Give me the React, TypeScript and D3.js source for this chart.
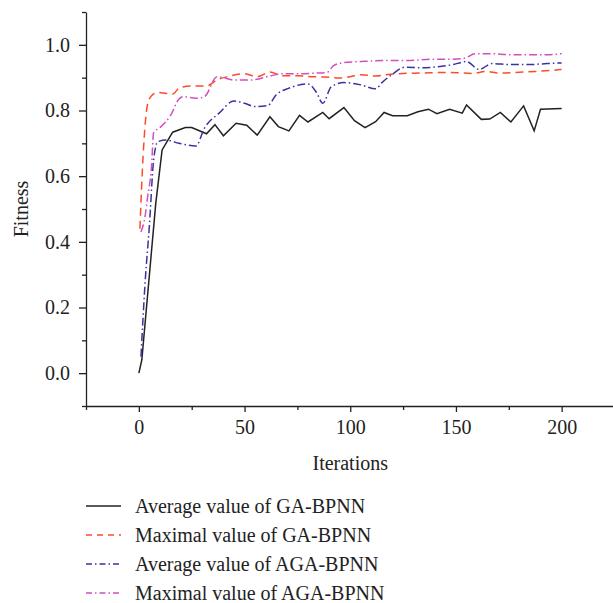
import React, { useEffect, useRef } from 'react';
import * as d3 from 'd3';

const width = 613;
const height = 603;
const margin = { top: 12, right: 0, bottom: 197, left: 86 };

// GA-BPNN average (solid black)
const gaAvgIter = [0, 1.4, 8, 11, 16, 22, 25, 32, 36, 40, 46, 51, 56, 62, 66, 71, 76, 80, 87, 90, 97, 102, 107, 112, 116, 120, 127, 132, 137, 141, 147, 153, 155, 162, 166, 171, 176, 182, 187, 190, 200];
const gaAvgFit = [0, 0.04, 0.517, 0.68, 0.734, 0.748, 0.748, 0.729, 0.757, 0.723, 0.761, 0.755, 0.725, 0.781, 0.751, 0.738, 0.785, 0.765, 0.794, 0.775, 0.809, 0.769, 0.748, 0.766, 0.794, 0.784, 0.784, 0.796, 0.804, 0.79, 0.804, 0.792, 0.817, 0.773, 0.774, 0.794, 0.765, 0.814, 0.738, 0.804, 0.806];

// GA-BPNN maximal (red dashed)
const gaMaxIter = [0.5, 2, 4, 6, 9, 13, 16, 19, 25, 32, 37, 43, 50, 56, 62, 68, 75, 81, 88, 95, 100, 105, 112, 117, 122, 134, 147, 158, 164, 171, 178, 188, 195, 200];
const gaMaxFit = [0.44, 0.66, 0.815, 0.845, 0.855, 0.852, 0.85, 0.868, 0.875, 0.875, 0.893, 0.905, 0.912, 0.903, 0.917, 0.906, 0.906, 0.903, 0.902, 0.899, 0.903, 0.909, 0.905, 0.909, 0.912, 0.914, 0.916, 0.913, 0.919, 0.914, 0.916, 0.919, 0.922, 0.925];

// AGA-BPNN average (blue dash-dot)
const agaAvgIter = [1, 3, 5, 7, 9, 13, 19, 27, 31, 38, 45, 50, 55, 61, 65, 71, 80, 84, 87, 91, 97, 105, 112, 115, 120, 126, 134, 141, 148, 155, 161, 167, 176, 185, 193, 200];
const agaAvgFit = [0.05, 0.28, 0.45, 0.65, 0.705, 0.71, 0.7, 0.692, 0.746, 0.792, 0.829, 0.822, 0.812, 0.815, 0.848, 0.868, 0.881, 0.855, 0.822, 0.872, 0.885, 0.878, 0.866, 0.885, 0.911, 0.932, 0.93, 0.933, 0.939, 0.949, 0.925, 0.943, 0.94, 0.94, 0.943, 0.945];

// AGA-BPNN maximal (magenta dash-dot)
const agaMaxIter = [1, 3, 4, 6, 7, 10, 15, 19, 21, 27, 31, 37, 45, 53, 62, 68, 76, 84, 89, 92, 97, 105, 117, 127, 138, 147, 154, 159, 167, 175, 184, 193, 200];
const agaMaxFit = [0.43, 0.48, 0.53, 0.63, 0.733, 0.748, 0.785, 0.835, 0.842, 0.837, 0.842, 0.903, 0.893, 0.893, 0.905, 0.912, 0.912, 0.914, 0.916, 0.936, 0.946, 0.949, 0.952, 0.952, 0.956, 0.956, 0.959, 0.973, 0.973, 0.97, 0.97, 0.97, 0.973];

const legendLabels = [
  'Average value of GA-BPNN',
  'Maximal value of GA-BPNN',
  'Average value of AGA-BPNN',
  'Maximal value of AGA-BPNN',
];

const xTicks = [0, 50, 100, 150, 200];
const xMinorTicks = [-25, 25, 75, 125, 175];
const yTicks = [0, 0.2, 0.4, 0.6, 0.8, 1.0];
const yMinorTicks = [-0.1, 0.1, 0.3, 0.5, 0.7, 0.9, 1.1];

const font = '"Liberation Serif", "DejaVu Serif", serif';

const series = [
  { iter: gaAvgIter, fit: gaAvgFit, color: '#222222', dash: null, smooth: false },
  { iter: gaMaxIter, fit: gaMaxFit, color: '#ff4a2a', dash: '8,5', smooth: true },
  { iter: agaAvgIter, fit: agaAvgFit, color: '#3a32a0', dash: '8,3,1.5,3', smooth: true },
  { iter: agaMaxIter, fit: agaMaxFit, color: '#d050c0', dash: '8,3,1.5,3', smooth: true },
];

function App() {
  const ref = useRef<SVGSVGElement>(null);

  useEffect(() => {
    const svg = d3.select(ref.current);
    svg.selectAll('*').remove();

    const x = d3.scaleLinear().domain([-25, 225]).range([margin.left, 614.5]);
    const y = d3.scaleLinear().domain([-0.1, 1.1]).range([height - margin.bottom, margin.top]);

    // lines
    series.forEach((s) => {
      const pts = s.iter.map((d, i) => [d, s.fit[i]] as [number, number]);
      const line = d3
        .line<[number, number]>()
        .x((d) => x(d[0]))
        .y((d) => y(d[1]))
        .curve(s.smooth ? d3.curveMonotoneX : d3.curveLinear);
      svg
        .append('path')
        .attr('d', line(pts))
        .attr('fill', 'none')
        .attr('stroke', s.color)
        .attr('stroke-width', 1.5)
        .attr('stroke-dasharray', s.dash);
    });

    // x axis
    const xAxis = svg.append('g').attr('transform', `translate(0, ${y(-0.1)})`);
    xAxis.call(d3.axisBottom(x).tickValues(xTicks).tickSizeInner(6).tickSizeOuter(0).tickPadding(8).tickFormat(d3.format('d')));
    xAxis
      .append('g')
      .call(d3.axisBottom(x).tickValues(xMinorTicks).tickSizeInner(4).tickSizeOuter(0).tickFormat(() => ''))
      .select('.domain')
      .remove();

    // y axis
    const yAxis = svg.append('g').attr('transform', `translate(${margin.left}, 0)`);
    yAxis.call(d3.axisLeft(y).tickValues(yTicks).tickSizeInner(7).tickSizeOuter(0).tickPadding(9).tickFormat(d3.format('.1f')));
    yAxis
      .append('g')
      .call(d3.axisLeft(y).tickValues(yMinorTicks).tickSizeInner(4).tickSizeOuter(0).tickFormat(() => ''))
      .select('.domain')
      .remove();

    svg.selectAll('.domain').attr('stroke', '#222').attr('stroke-width', 1.3);
    svg.selectAll('.tick line').attr('stroke', '#222').attr('stroke-width', 1.3);
    svg
      .selectAll('.tick text')
      .attr('fill', '#222')
      .style('font-family', font)
      .style('font-size', '20px');

    // axis titles
    svg
      .append('text')
      .attr('x', x(100))
      .attr('y', 470)
      .attr('text-anchor', 'middle')
      .style('font-family', font)
      .style('font-size', '20px')
      .attr('fill', '#222')
      .text('Iterations');

    svg
      .append('text')
      .attr('transform', `translate(28, ${y(0.5)}) rotate(-90)`)
      .attr('text-anchor', 'middle')
      .style('font-family', font)
      .style('font-size', '20px')
      .attr('fill', '#222')
      .text('Fitness');

    // legend
    const legend = svg.append('g');
    legendLabels.forEach((label, i) => {
      const ly = 506 + i * 29;
      legend
        .append('line')
        .attr('x1', 86)
        .attr('x2', 121)
        .attr('y1', ly)
        .attr('y2', ly)
        .attr('stroke', series[i].color)
        .attr('stroke-width', 1.5)
        .attr('stroke-dasharray', i === 0 ? null : i === 1 ? '6,5' : '6,3,1.5,3');
      legend
        .append('text')
        .attr('x', 135)
        .attr('y', ly)
        .attr('dy', '0.35em')
        .style('font-family', font)
        .style('font-size', '20px')
        .attr('fill', '#222')
        .text(label);
    });
  }, []);

  return (
    <svg
      ref={ref}
      width={width}
      height={height}
      style={{ position: 'absolute', left: 0, top: 0, background: '#fff' }}
    />
  );
}

export default App;
